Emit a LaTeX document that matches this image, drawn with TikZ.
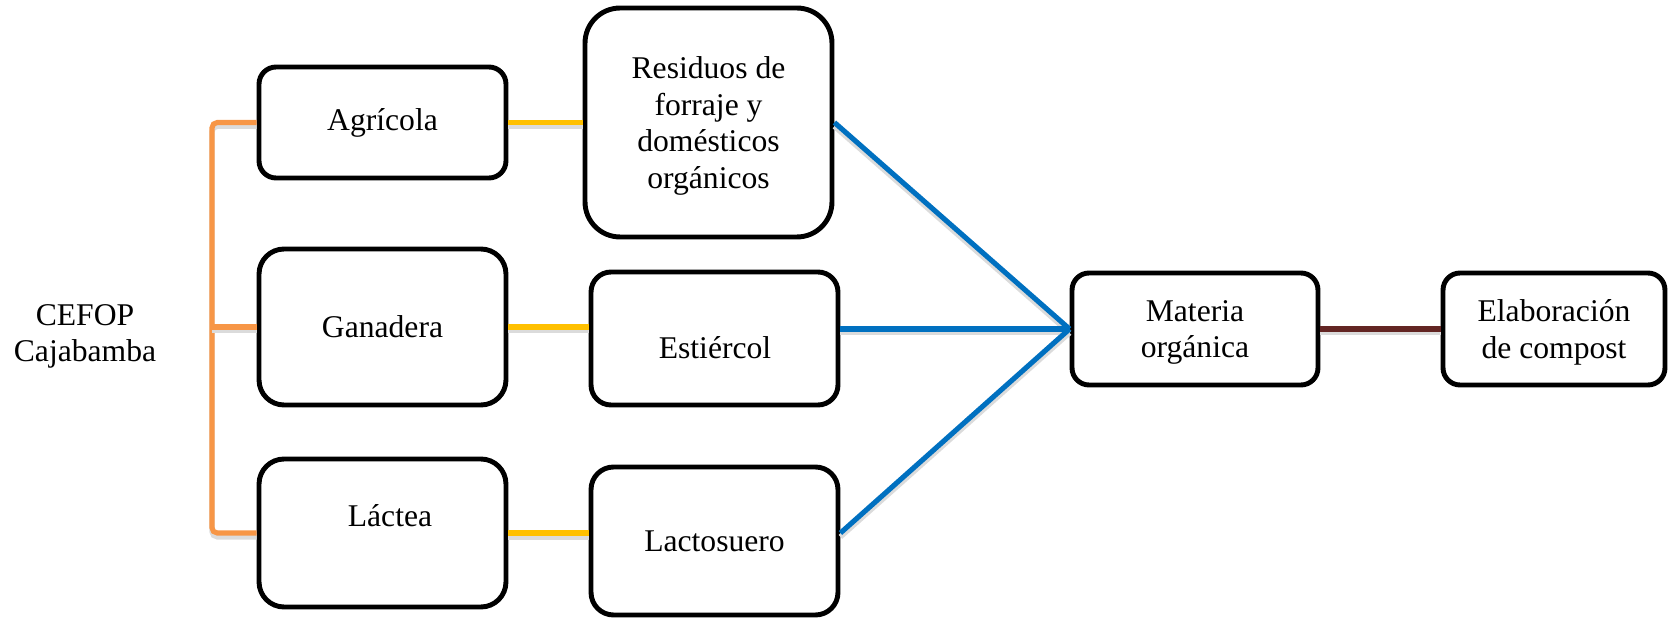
\documentclass[tikz,border=0pt]{standalone}
\usepackage{fontspec}
\setmainfont{Liberation Serif}
\usepackage{tikz}
\usetikzlibrary{calc}

\definecolor{bracket}{RGB}{247,150,70}
\definecolor{feed}{RGB}{255,192,0}
\definecolor{flow}{RGB}{0,112,192}
\definecolor{brownline}{RGB}{99,37,35}

\begin{document}
\begin{tikzpicture}[x=0.02cm,y=-0.02cm,
  font=\fontsize{18}{20.7}\selectfont,
  box/.style={draw,line width=2.8pt,rounded corners=#1,minimum width=4.94cm,
    align=center,inner sep=0pt},
  box/.default=0.34cm,
  link/.style={line width=2.9pt,
    preaction={draw=black!14,line width=3pt,transform canvas={yshift=-2.2pt}}}]
\useasboundingbox (0,0) rectangle (1668,618);

\node[align=center,text depth=0pt] (cefop) at (85,333) {CEFOP\\Cajabamba};

\node[box,minimum height=2.22cm] (agri) at (382.5,122.5) {Agrícola};
\node[box=0.5cm,minimum height=3.12cm] (gan) at (382.5,327) {Ganadera};
\node[box=0.5cm,minimum height=2.96cm] (lac) at (382.5,533) {};
\node (lactxt) at (390,516) {Láctea};

\node[box=0.7cm,minimum height=4.58cm,text depth=0pt] (res) at (708.5,122.5)
  {Residuos de\\forraje y\\domésticos\\orgánicos};
\node[box=0.4cm,minimum height=2.66cm] (est) at (714.5,338.5) {};
\node (esttxt) at (715,348) {Estiércol};
\node[box=0.45cm,minimum height=2.96cm] (lacto) at (714.5,541) {Lactosuero};

\node[box,minimum height=2.24cm,minimum width=4.92cm,text depth=0pt] (mat)
  at (1195,329) {Materia\\orgánica};
\node[box,minimum height=2.24cm,minimum width=4.44cm,text depth=0pt] (ela)
  at (1554,329) {Elaboración\\de compost};

\coordinate (spine) at (212,327);
\draw[link,bracket,rounded corners=3pt] (agri.west) -| (spine) |- (lac.west);
\draw[link,bracket] (spine) -- (gan.west);

\foreach \a/\b in {agri/res,gan/est,lac/lacto}
  \draw[link,feed] (\a.east) -- (\a.east -| \b.west);

\draw[link,flow] (res.east) -- (mat.west);
\draw[link,flow] (est.east |- mat.west) -- (mat.west);
\draw[link,flow] (lacto.east |- lac.east) -- (mat.west);

\draw[link,brownline] (mat.east) -- (ela.west);
\end{tikzpicture}
\end{document}
